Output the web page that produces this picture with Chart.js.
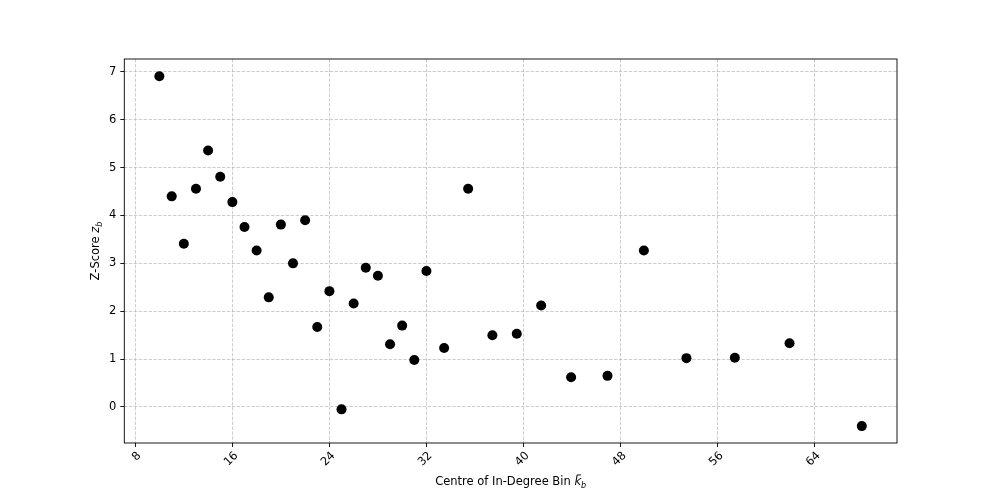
<!DOCTYPE html>
<html>
<head>
<meta charset="utf-8">
<script src="https://cdn.jsdelivr.net/npm/chart.js@4.4.1/dist/chart.umd.min.js"></script>
<style>
    html, body { margin: 0; padding: 0; background: #fff; }
    #wrap { width: 997px; height: 498px; }
</style>
</head>
<body>
<div id="wrap"><canvas id="zChart"></canvas></div>
<script>
const binCentres = [
    9.98, 11.0, 12.0, 13.0, 14.0, 15.0, 16.0, 17.0, 18.0, 19.0,
    20.0, 21.0, 22.0, 23.0, 24.0, 25.0, 26.0, 27.0, 28.0, 29.0,
    30.0, 31.0, 32.0, 33.46, 35.44, 37.44, 39.45, 41.46, 43.93, 46.93,
    49.93, 53.44, 57.43, 61.94, 67.9,
];
const zScores = [
    6.91, 4.40, 3.41, 4.56, 5.36, 4.81, 4.28, 3.76, 3.27, 2.29,
    3.81, 3.00, 3.90, 1.67, 2.42, -0.05, 2.16, 2.91, 2.74, 1.31,
    1.70, 0.98, 2.84, 1.23, 4.56, 1.50, 1.53, 2.12, 0.62, 0.65,
    3.27, 1.02, 1.03, 1.33, -0.40,
];
const xTicks = [8, 16, 24, 32, 40, 48, 56, 64];
const yTicks = [0, 1, 2, 3, 4, 5, 6, 7];

const FONT = "DejaVu Sans";
Chart.defaults.font.family = FONT;
Chart.defaults.color = "#000";

// draws mixed normal / italic / subscript text centred on (cx, baseline)
function drawRichText(ctx, parts, cx, cy, angle) {
    ctx.save();
    ctx.translate(cx, cy);
    ctx.rotate(angle);
    let total = 0;
    parts.forEach((p) => {
        ctx.font = p.font;
        p.w = ctx.measureText(p.text).width;
        total += p.w;
    });
    let x = -total / 2;
    ctx.textAlign = "left";
    ctx.textBaseline = "alphabetic";
    ctx.fillStyle = "#000";
    parts.forEach((p) => {
        ctx.font = p.font;
        ctx.fillText(p.text, x, p.dy || 0);
        if (p.bar) {
            ctx.fillRect(x + 2.5, -10.5, p.w - 2.5, 0.9);
        }
        x += p.w;
    });
    ctx.restore();
}

const frameAndTitles = {
    id: "frameAndTitles",
    afterDraw(chart) {
        const { ctx, chartArea: a } = chart;
        ctx.save();
        ctx.strokeStyle = "#000";
        ctx.lineWidth = 0.9;
        ctx.strokeRect(a.left, a.top, a.right - a.left, a.bottom - a.top);
        ctx.restore();

        const normal = `11.5px ${FONT}`;
        const italic = `italic 11.5px ${FONT}`;
        const sub = `italic 8px ${FONT}`;
        drawRichText(ctx, [
            { text: "Centre of In-Degree Bin ", font: normal },
            { text: "k", font: italic, bar: true },
            { text: "b", font: sub, dy: 2.5 },
        ], (a.left + a.right) / 2, 485, 0);
        drawRichText(ctx, [
            { text: "Z-Score ", font: normal },
            { text: "z", font: italic },
            { text: "b", font: sub, dy: 2.5 },
        ], 99, (a.top + a.bottom) / 2, -Math.PI / 2);
    },
};

const gridStyle = {
    color: "rgba(176, 176, 176, 0.7)",
    lineWidth: 0.9,
    tickLength: 4,
    tickColor: "#000",
    tickWidth: 0.9,
    tickBorderDash: [],
};

new Chart(document.getElementById("zChart"), {
    type: "scatter",
    data: {
        datasets: [
            {
                data: binCentres.map((x, i) => ({ x: x, y: zScores[i] })),
                backgroundColor: "#000",
                borderWidth: 0,
                pointRadius: 5,
                pointHoverRadius: 5,
            },
        ],
    },
    options: {
        responsive: true,
        maintainAspectRatio: false,
        animation: false,
        devicePixelRatio: 1,
        layout: { padding: { left: 0, top: 59, right: 100, bottom: 0 } },
        plugins: {
            legend: { display: false },
            tooltip: { enabled: false },
        },
        scales: {
            x: {
                type: "linear",
                min: 7.09,
                max: 70.8,
                afterBuildTicks: (s) => { s.ticks = xTicks.map((v) => ({ value: v })); },
                afterFit: (s) => { s.height = 55; },
                grid: gridStyle,
                border: { display: false, dash: [3.4, 1.5] },
                ticks: {
                    font: { size: 11.5 },
                    minRotation: 45,
                    maxRotation: 45,
                    padding: 2,
                    labelOffset: 4,
                },
            },
            y: {
                min: -0.753,
                max: 7.27,
                afterBuildTicks: (s) => { s.ticks = yTicks.map((v) => ({ value: v })); },
                afterFit: (s) => { s.width = 124.3; },
                grid: gridStyle,
                border: { display: false, dash: [3.4, 1.5] },
                ticks: {
                    font: { size: 11.5 },
                    padding: 4,
                },
            },
        },
    },
    plugins: [frameAndTitles],
});
</script>
</body>
</html>
